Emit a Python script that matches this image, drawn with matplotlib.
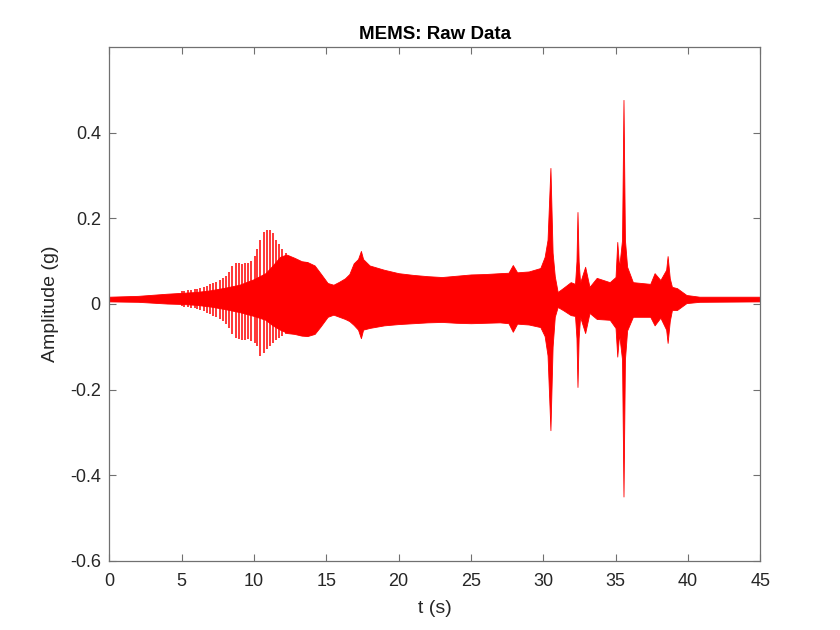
import numpy as np
import matplotlib
matplotlib.use("Agg")
import matplotlib.pyplot as plt

# ---- Envelope of the dense signal (time s, upper g, lower g)
env_t = [0, 2, 4, 5, 6, 7, 8, 9, 10, 10.8, 11.3, 11.8, 12.2,
         12.3, 12.8, 13.3, 13.7, 14.2, 14.6, 15.1, 15.5, 15.9, 16.3, 16.6, 16.9,
         17.2, 17.4, 17.55, 18.0, 19.0, 20.0, 21.0, 22.0, 23.0, 24.0, 25.0, 26.0,
         27.0, 27.6, 27.9, 28.2, 29.0, 29.8, 30.1, 30.3, 30.5, 30.65, 30.8, 31.0,
         31.4, 31.9, 32.2, 32.3, 32.37, 32.45, 32.55, 32.9, 33.2, 33.7, 34.6, 35.0,
         35.12, 35.25, 35.45, 35.55, 35.65, 35.8, 36.2, 37.4, 37.7, 38.1, 38.5,
         38.6, 38.75, 38.9, 39.25, 39.9, 40.8, 45]
env_hi = [0.017, 0.019, 0.024, 0.026, 0.028, 0.032, 0.038, 0.045, 0.058, 0.072,
          0.090, 0.110, 0.115,
          0.115, 0.108, 0.100, 0.098, 0.090, 0.072, 0.049, 0.045, 0.052, 0.060,
          0.070, 0.095, 0.105, 0.124, 0.105, 0.090, 0.080, 0.072, 0.068, 0.065,
          0.063, 0.066, 0.069, 0.070, 0.072, 0.073, 0.091, 0.074, 0.076, 0.084,
          0.110, 0.150, 0.318, 0.120, 0.065, 0.028, 0.038, 0.051, 0.047, 0.100,
          0.215, 0.100, 0.050, 0.087, 0.040, 0.061, 0.051, 0.063, 0.145, 0.085,
          0.150, 0.477, 0.150, 0.087, 0.051, 0.047, 0.072, 0.056, 0.080, 0.112,
          0.060, 0.040, 0.037, 0.021, 0.017, 0.017]
env_lo = [0.006, 0.005, 0.001, 0.000, -0.002, -0.006, -0.012, -0.019, -0.028,
          -0.037, -0.050, -0.060, -0.066,
          -0.068, -0.070, -0.074, -0.075, -0.070, -0.053, -0.030, -0.025, -0.030,
          -0.035, -0.040, -0.049, -0.060, -0.080, -0.060, -0.056, -0.050, -0.047,
          -0.045, -0.043, -0.042, -0.044, -0.045, -0.044, -0.043, -0.045, -0.065,
          -0.046, -0.048, -0.054, -0.075, -0.120, -0.295, -0.100, -0.030, -0.007,
          -0.015, -0.026, -0.028, -0.080, -0.194, -0.080, -0.030, -0.068, -0.021,
          -0.035, -0.037, -0.056, -0.123, -0.070, -0.130, -0.450, -0.130, -0.062,
          -0.030, -0.030, -0.050, -0.032, -0.060, -0.091, -0.040, -0.014, -0.014,
          0.002, 0.005, 0.006]

# ---- Individually visible oscillation strokes (5-14 s)
stroke_t = [5.0, 5.2, 5.45, 5.65, 5.9, 6.1, 6.3, 6.55, 6.75, 7.0, 7.2, 7.4, 7.65,
            7.85, 8.1, 8.3, 8.5, 8.75, 8.95, 9.15, 9.4, 9.6, 9.8, 10.05, 10.25,
            10.45, 10.7, 10.9, 11.1, 11.3, 11.55, 11.75, 11.95, 12.2, 12.4, 12.6,
            12.85, 13.05, 13.25, 13.5, 13.7]
stroke_hi = [0.030, 0.030, 0.032, 0.033, 0.035, 0.036, 0.038, 0.040, 0.043, 0.046,
             0.048, 0.052, 0.056, 0.060, 0.066, 0.075, 0.088, 0.095, 0.096, 0.094,
             0.096, 0.095, 0.100, 0.112, 0.128, 0.150, 0.168, 0.173, 0.172, 0.165,
             0.150, 0.140, 0.128, 0.118, 0.113, 0.110, 0.105, 0.100, 0.098, 0.099,
             0.098]
stroke_lo = [-0.005, -0.006, -0.008, -0.009, -0.010, -0.012, -0.014, -0.017,
             -0.020, -0.024, -0.027, -0.031, -0.035, -0.040, -0.046, -0.055,
             -0.070, -0.080, -0.083, -0.084, -0.085, -0.082, -0.086, -0.092,
             -0.098, -0.122, -0.115, -0.105, -0.098, -0.092, -0.085, -0.080,
             -0.075, -0.070, -0.068, -0.066, -0.070, -0.072, -0.074, -0.075,
             -0.075]

x_ticks = [0, 5, 10, 15, 20, 25, 30, 35, 40, 45]
y_ticks = [-0.6, -0.4, -0.2, 0, 0.2, 0.4]
y_tick_labels = ["-0.6", "-0.4", "-0.2", "0", "0.2", "0.4"]

plt.rcParams['font.family'] = ['Liberation Sans', 'DejaVu Sans']

fig = plt.figure(figsize=(8.4, 6.3), dpi=100)
ax = fig.add_axes([0.13, 0.11, 0.775, 0.815])

red = (1, 0, 0)
ax.fill_between(env_t, env_lo, env_hi, color=red, linewidth=0.6, edgecolor=red)
ax.vlines(stroke_t, stroke_lo, stroke_hi, color=red, linewidth=1.1)

ax.set_xlim(0, 45)
ax.set_ylim(-0.6, 0.6)
ax.set_xticks(x_ticks)
ax.set_xticklabels([str(v) for v in x_ticks])
ax.set_yticks(y_ticks)
ax.set_yticklabels(y_tick_labels)

axcol = '#707070'
for s in ax.spines.values():
    s.set_color(axcol)
    s.set_linewidth(0.9)
ax.tick_params(direction='in', length=5, width=0.8, color=axcol,
               labelcolor='#262626', labelsize=13, top=True, right=True)
ax.tick_params(axis='x', pad=9)
ax.tick_params(axis='y', pad=6)

ax.set_title("MEMS: Raw Data", fontsize=13.5, fontweight='bold', color='black', pad=6)
ax.set_xlabel("t (s)", fontsize=14, color='#262626', labelpad=7)
ax.set_ylabel("Amplitude (g)", fontsize=14, color='#262626', labelpad=7.5)

fig.savefig("out.png", dpi=100, facecolor='white')
